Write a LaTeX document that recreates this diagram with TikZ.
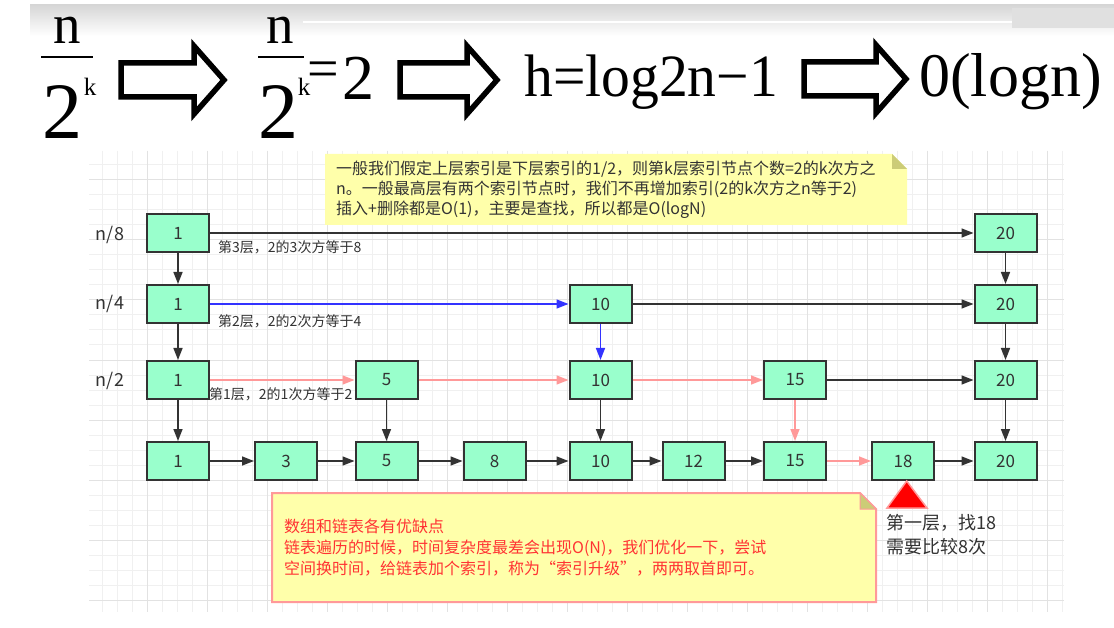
\documentclass[tikz,border=0pt]{standalone}
\usepackage{fontspec}
\setmainfont{Liberation Serif}
\newfontfamily\cjk{Noto Sans CJK SC}
\usetikzlibrary{arrows.meta}
\definecolor{nodefill}{HTML}{99FFCC}
\definecolor{dk}{HTML}{333333}
\definecolor{pinkc}{HTML}{FF9999}
\definecolor{bluec}{HTML}{3333FF}
\definecolor{notey}{HTML}{FFFFAA}
\definecolor{foldc}{HTML}{CCCC77}
\definecolor{redtxt}{HTML}{FF3333}
\definecolor{gmin}{HTML}{F0F0F0}
\definecolor{gmaj}{HTML}{E2E2E2}
\tikzset{
  box/.style={draw=dk, line width=2pt, fill=nodefill, minimum width=62pt, minimum height=38pt, inner sep=0pt, font=\cjk\fontsize{17}{17}\selectfont, text=dk},
  lvl/.style={font=\cjk\fontsize{18}{18}\selectfont, text=dk, inner sep=0pt},
  edgelbl/.style={font=\cjk\fontsize{14}{14}\selectfont, text=dk, anchor=west, inner sep=0pt},
  conn/.style={draw=dk, line width=1.6pt, -{Triangle[length=12pt,width=9pt]}},
  pconn/.style={conn, draw=pinkc},
  bconn/.style={conn, draw=bluec},
  hollow/.style={draw=black, line width=5.5pt, fill=white, line join=miter},
  formula/.style={inner sep=0pt, anchor=base, text=black},
}
\begin{document}
\begin{tikzpicture}[x=1pt, y=-1pt]
\useasboundingbox (0,0) rectangle (1114,628);
\fill[white] (0,0) rectangle (1114,628);
% top band
\shade[top color=black!16, bottom color=white] (30,5) rectangle (1114,36);
\draw[white, line width=1.5pt] (303,22) -- (1012,22);
\fill[black!12] (1012,8) rectangle (1114,28);
% formula
\node[formula] (n1) at (67,44) {\smash{\scalebox{0.98}[1]{\fontsize{56}{56}\selectfont n}}};
\draw[line width=2.5pt] (41,57) -- (93,57);
\node[formula] (d1) at (62,139) {\fontsize{80}{80}\selectfont 2};
\node[formula] (k1) at (90,96) {\fontsize{25}{25}\selectfont k};
\draw[hollow] (121,63) -- (194,63) -- (194,46) -- (224,80) -- (194,114) -- (194,97) -- (121,97) -- cycle;
\node[formula] (n2) at (280,44) {\smash{\scalebox{0.98}[1]{\fontsize{56}{56}\selectfont n}}};
\draw[line width=2.5pt] (258,57) -- (304,57);
\node[formula] (d2) at (278,139) {\fontsize{80}{80}\selectfont 2};
\node[formula] (k2) at (304,96) {\fontsize{25}{25}\selectfont k};
\node[formula] (eq) at (323,88) {\fontsize{56}{56}\selectfont =};
\node[formula] (two) at (358,100) {\fontsize{64}{64}\selectfont 2};
\draw[hollow] (400,63) -- (467,63) -- (467,46) -- (497,80) -- (467,114) -- (467,97) -- (400,97) -- cycle;
\node[formula, anchor=base west] (hf) at (524,97) {\scalebox{0.96}[1]{\fontsize{60}{60}\selectfont h=log2n−1}};
\draw[hollow] (804,62) -- (876,62) -- (876,45) -- (906,79) -- (876,113) -- (876,96) -- (804,96) -- cycle;
\node[formula, anchor=base west] (on) at (919,97) {\fontsize{62}{62}\selectfont 0(logn)};
% grid
\foreach \k in {0,...,64} \draw[gmin, line width=1pt] ({102.3+15*\k},151) -- ({102.3+15*\k},612);
\foreach \k in {0,...,29} \draw[gmin, line width=1pt] (89,{165+15*\k}) -- (1064,{165+15*\k});
\foreach \k in {0,...,15} \draw[gmaj, line width=1pt] ({147.3+60*\k},151) -- ({147.3+60*\k},612);
\foreach \k in {0,...,7} \draw[gmaj, line width=1pt] (89,{180+60*\k}) -- (1064,{180+60*\k});
% top note
\fill[notey] (325,154) -- (892,154) -- (907,169) -- (907,225) -- (325,225) -- cycle;
\fill[foldc] (892,154) -- (907,169) -- (892,169) -- cycle;
\node[anchor=west, align=left, inner sep=0pt, text=dk, font=\cjk\fontsize{16}{20}\selectfont] (topnote) at (336,190)
 {一般我们假定上层索引是下层索引的1/2，则第k层索引节点个数=2的k次方之\\n。一般最高层有两个索引节点时，我们不再增加索引(2的k次方之n等于2)\\插入+删除都是O(1)，主要是查找，所以都是O(logN)};
% level labels
\node[lvl] (l8) at (110,235) {n/8};
\node[lvl] (l4) at (110,304) {n/4};
\node[lvl] (l2) at (110,381) {n/2};
% nodes
\node[box] (a1) at (178,233) {1};
\node[box] (a20) at (1005.5,233) {20};
\node[box] (b1) at (178,304) {1};
\node[box] (b10) at (600.5,304) {10};
\node[box] (b20) at (1005.5,304) {20};
\node[box] (c1) at (178,380) {1};
\node[box] (c5) at (386.5,380) {5};
\node[box] (c10) at (600.5,380) {10};
\node[box] (c15) at (795,380) {15};
\node[box] (c20) at (1005.5,380) {20};
\node[box] (d1n) at (178,461) {1};
\node[box] (d3) at (286,461) {3};
\node[box] (d5) at (386.5,461) {5};
\node[box] (d8) at (494.5,461) {8};
\node[box] (d10) at (600.5,461) {10};
\node[box] (d12) at (693.5,461) {12};
\node[box] (d15) at (795,461) {15};
\node[box] (d18) at (903,461) {18};
\node[box] (d20) at (1005.5,461) {20};
% connectors
\draw[conn] (a1) -- (a20);
\draw[conn] (a1) -- (b1);
\draw[conn] (a20) -- (b20);
\draw[bconn] (b1) -- (b10);
\draw[conn] (b10) -- (b20);
\draw[conn] (b1) -- (c1);
\draw[bconn] (b10) -- (c10);
\draw[conn] (b20) -- (c20);
\draw[pconn] (c1) -- (c5);
\draw[pconn] (c5) -- (c10);
\draw[pconn] (c10) -- (c15);
\draw[conn] (c15) -- (c20);
\draw[conn] (c1) -- (d1n);
\draw[conn] (c5) -- (d5);
\draw[conn] (c10) -- (d10);
\draw[pconn] (c15) -- (d15);
\draw[conn] (c20) -- (d20);
\draw[conn] (d1n) -- (d3);
\draw[conn] (d3) -- (d5);
\draw[conn] (d5) -- (d8);
\draw[conn] (d8) -- (d10);
\draw[conn] (d10) -- (d12);
\draw[conn] (d12) -- (d15);
\draw[pconn] (d15) -- (d18);
\draw[conn] (d18) -- (d20);
% edge labels
\node[edgelbl] (e3) at (218,247) {第3层，2的3次方等于8};
\node[edgelbl] (e2) at (218,321) {第2层，2的2次方等于4};
\node[edgelbl] (e1) at (209,394) {第1层，2的1次方等于2};
% bottom note
\filldraw[fill=notey, draw=pinkc, line width=2pt, line join=miter] (272,493) -- (860,493) -- (876,509) -- (876,602) -- (272,602) -- cycle;
\filldraw[fill=foldc, draw=pinkc, line width=1pt] (860,493) -- (876,509) -- (860,509) -- cycle;
\node[anchor=west, align=left, inner sep=0pt, text=redtxt, font=\cjk\fontsize{16}{21}\selectfont] (botnote) at (284,548)
 {数组和链表各有优缺点\\链表遍历的时候，时间复杂度最差会出现O(N)，我们优化一下，尝试\\空间换时间，给链表加个索引，称为“索引升级”，两两取首即可。};
% marker
\filldraw[fill=red, draw=pinkc, line width=1.5pt, line join=miter] (906.7,481) -- (927,508) -- (887,508) -- cycle;
\node[anchor=west, align=left, inner sep=0pt, text=dk, font=\cjk\fontsize{18}{24}\selectfont] (find) at (886,535)
 {第一层，找18\\需要比较8次};
\end{tikzpicture}
\end{document}
